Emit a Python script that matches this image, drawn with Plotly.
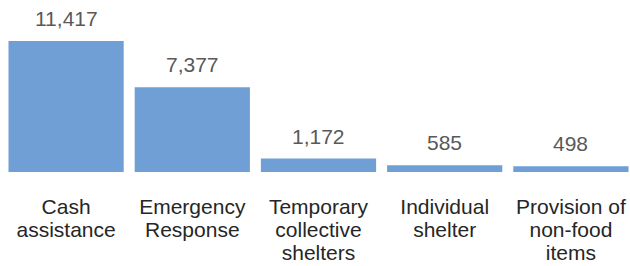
import plotly.graph_objects as go

categories = ["Cash assistance", "Emergency Response", "Temporary collective shelters",
              "Individual shelter", "Provision of non-food items"]
label_lines = [["Cash", "assistance"], ["Emergency", "Response"],
               ["Temporary", "collective", "shelters"], ["Individual", "shelter"],
               ["Provision of", "non-food", "items"]]
values = [11417, 7377, 1172, 585, 498]

bar_color = "#709fd6"

ticktext = ["<br>".join('<span style="font-size:21px">%s</span>' % l for l in lines)
            for lines in label_lines]

fig = go.Figure()
fig.add_trace(go.Bar(x=categories, y=values, marker_color=bar_color,
                     marker_line_width=0, hoverinfo="skip"))

for c, v in zip(categories, values):
    fig.add_annotation(x=c, y=v, text=f"{v:,}", showarrow=False, yanchor="bottom",
                       yshift=9, font=dict(family="Liberation Sans, Arial", size=21, color="#595959"))

fig.update_layout(
    width=634, height=266,
    margin=dict(l=3, r=0, t=0, b=94, autoexpand=False),
    paper_bgcolor="white", plot_bgcolor="white",
    bargap=0.087,
    showlegend=False,
    font=dict(family="Liberation Sans, Arial", color="#262626"),
)
fig.update_xaxes(tickmode="array", tickvals=categories, ticktext=ticktext,
                 tickfont=dict(size=17.7, color="#262626"), showline=False,
                 ticks="", showgrid=False, tickangle=0, ticklabelstandoff=23,
                 automargin=False)
fig.update_yaxes(range=[0, 14990], visible=False, showgrid=False, automargin=False)

fig.write_html("out.html", config={"displayModeBar": False, "staticPlot": True},
               post_script="document.body.style.margin='0';document.body.style.overflow='hidden';")
